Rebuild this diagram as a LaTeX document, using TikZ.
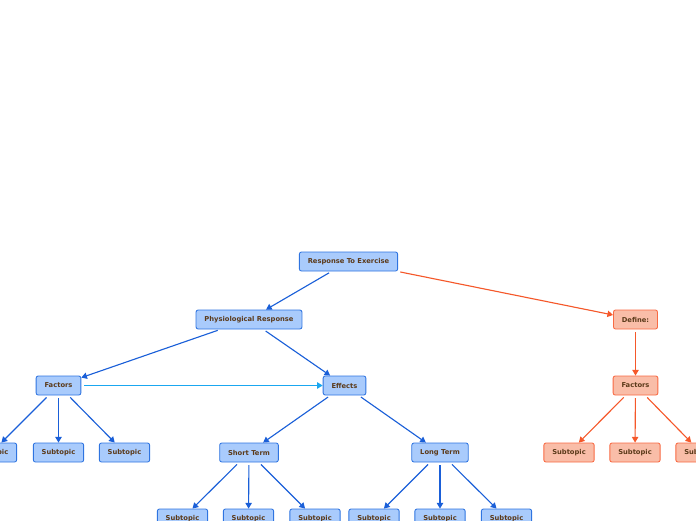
\documentclass[tikz,border=0pt]{standalone}
\usepackage{fontspec}
\setsansfont{DejaVu Sans}
\usepackage{tikz}
\usetikzlibrary{arrows.meta}
\definecolor{bluefill}{HTML}{A9CBFC}
\definecolor{blueline}{HTML}{2F74E0}
\definecolor{blueedge}{HTML}{1A5FD8}
\definecolor{orgfill}{HTML}{F9BDA8}
\definecolor{orgline}{HTML}{F86A43}
\definecolor{orgedge}{HTML}{F5582A}
\definecolor{cyanedge}{HTML}{1AA7F0}
\definecolor{txt}{HTML}{5B3A1A}

\begin{document}
\begin{tikzpicture}[
  x=0.025cm, y=-0.025cm,
  topic/.style={draw=blueline, fill=bluefill, rounded corners=1.5pt, line width=0.6pt,
    minimum height=0.475cm, inner xsep=0.21cm, text=txt,
    font=\sffamily\bfseries\fontsize{4.8}{5}\selectfont},
  otopic/.style={topic, draw=orgline, fill=orgfill},
  link/.style={-{Triangle[width=4.5pt,length=4pt]}, line width=0.8pt, blueedge, shorten <=2pt},
  olink/.style={link, orgedge}
]
\useasboundingbox (0,0) rectangle (696,520);
\node[topic] (resp) at (348.5,261.5) {Response To Exercise};
\node[topic] (phys) at (249,319.5) {Physiological Response};
\node[otopic] (def) at (635.5,319.5) {Define:};
\node[topic] (fac) at (58.5,385.5) {Factors};
\node[topic] (eff) at (344.5,385.5) {Effects};
\node[otopic] (ofac) at (635.5,385.5) {Factors};
\node[topic] (fs1) at (-8.5,452.5) {Subtopic};
\node[topic] (fs2) at (58.5,452.5) {Subtopic};
\node[topic] (fs3) at (124.5,452.5) {Subtopic};
\node[topic] (short) at (249,452.5) {Short Term};
\node[topic] (long) at (440,452.5) {Long Term};
\node[otopic] (os1) at (569,452.5) {Subtopic};
\node[otopic] (os2) at (635,452.5) {Subtopic};
\node[otopic] (os3) at (701,452.5) {Subtopic};
\node[topic] (ss1) at (182.5,518.5) {Subtopic};
\node[topic] (ss2) at (248.5,518.5) {Subtopic};
\node[topic] (ss3) at (315,518.5) {Subtopic};
\node[topic] (ls1) at (374,518.5) {Subtopic};
\node[topic] (ls2) at (440,518.5) {Subtopic};
\node[topic] (ls3) at (506.5,518.5) {Subtopic};

\draw[link] (resp) -- (phys);
\draw[olink] (resp) -- (def);
\draw[link] (phys) -- (fac);
\draw[link] (phys) -- (eff);
\draw[link, cyanedge, line width=1pt] (fac) -- (eff);
\draw[olink] (def) -- (ofac);
\draw[link] (fac) -- (fs1);
\draw[link] (fac) -- (fs2);
\draw[link] (fac) -- (fs3);
\draw[link] (eff) -- (short);
\draw[link] (eff) -- (long);
\draw[olink] (ofac) -- (os1);
\draw[olink] (ofac) -- (os2);
\draw[olink] (ofac) -- (os3);
\draw[link] (short) -- (ss1);
\draw[link] (short) -- (ss2);
\draw[link] (short) -- (ss3);
\draw[link] (long) -- (ls1);
\draw[link] (long) -- (ls2);
\draw[link] (long) -- (ls3);
\end{tikzpicture}
\end{document}
